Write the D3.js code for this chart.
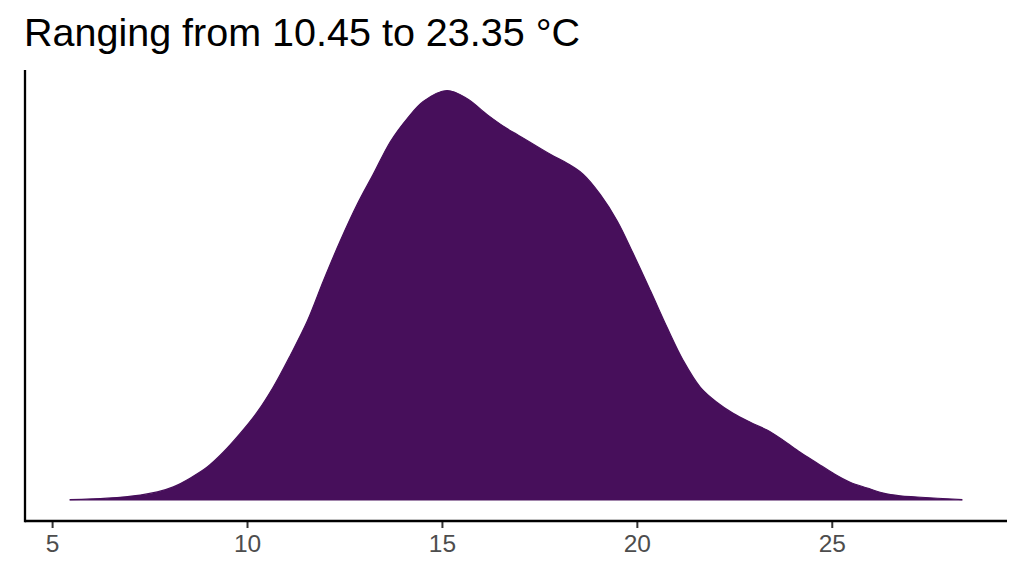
<!DOCTYPE html>
<html>
<head>
<meta charset="utf-8">
<script src="https://cdn.jsdelivr.net/npm/d3@7"></script>
<style>
  body { margin: 0; background: #fff; }
  svg { display: block; font-family: "Liberation Sans", Arial, sans-serif; }
</style>
</head>
<body>
<script>
// temperature grid (°C) and estimated kernel density
const temps = [5.45, 6.42, 7.26, 7.70, 8.11, 8.55, 8.98, 9.39, 9.83, 10.26, 10.67, 11.11, 11.55, 11.96,
  12.39, 12.83, 13.24, 13.68, 14.11, 14.52, 15.13, 15.65, 16.16, 16.67, 16.93, 17.78, 18.21, 18.62,
  19.06, 19.50, 19.91, 20.35, 20.78, 21.19, 21.63, 22.06, 22.47, 22.91, 23.34, 23.75, 24.19, 24.63,
  25.04, 25.47, 25.91, 26.32, 26.75, 27.19, 28.35];
const density = [0.0002, 0.0006, 0.0014, 0.0022, 0.0035, 0.0058, 0.0086, 0.0124, 0.0173, 0.0227, 0.0291,
  0.0373, 0.0462, 0.0565, 0.0667, 0.0762, 0.0839, 0.0923, 0.0982, 0.1026, 0.1054, 0.1033, 0.0992,
  0.0956, 0.0941, 0.0890, 0.0867, 0.0839, 0.0787, 0.0718, 0.0634, 0.0539, 0.0444, 0.0360, 0.0291,
  0.0252, 0.0224, 0.0201, 0.0181, 0.0155, 0.0124, 0.0096, 0.0070, 0.0047, 0.0032, 0.0019, 0.0012,
  0.0009, 0.0002];
const xTicks = [5, 10, 15, 20, 25];
const title = 'Ranging from 10.45 to 23.35 °C';

const width = 1024, height = 576;
const plotLeft = 25, plotRight = 1007, plotTop = 70, plotBottom = 521;

const svg = d3.select('body').append('svg')
  .attr('width', width)
  .attr('height', height);

// ggplot style 5% padding around the data on both axes
const xMin = d3.min(temps), xMax = d3.max(temps);
const xPad = (xMax - xMin) * 0.05;
const x = d3.scaleLinear()
  .domain([xMin - xPad, xMax + xPad])
  .range([plotLeft, plotRight]);

const yMax = d3.max(density);
const y = d3.scaleLinear()
  .domain([-yMax * 0.05, yMax * 1.05])
  .range([plotBottom, plotTop]);

const pts = temps.map((t, i) => ({t: t, d: density[i]}));

const area = d3.area()
  .x(d => x(d.t))
  .y0(y(0))
  .y1(d => y(d.d))
  .curve(d3.curveCatmullRom.alpha(0.5));

const line = d3.line()
  .x(d => x(d.t))
  .y(d => y(d.d))
  .curve(d3.curveCatmullRom.alpha(0.5));

svg.append('path')
  .datum(pts)
  .attr('d', area)
  .attr('fill', '#470f5b');

svg.append('path')
  .datum(pts)
  .attr('d', line)
  .attr('fill', 'none')
  .attr('stroke', '#470f5b')
  .attr('stroke-width', 1.2);

// x axis
const xAxis = svg.append('g')
  .attr('transform', `translate(0,${plotBottom})`)
  .call(d3.axisBottom(x).tickValues(xTicks).tickSize(7).tickPadding(7).tickSizeOuter(0));
xAxis.select('.domain').remove();
xAxis.selectAll('.tick line').attr('stroke', '#333').attr('stroke-width', 2);
xAxis.selectAll('.tick text')
  .attr('fill', '#4d4d4d')
  .style('font-size', '24.5px')
  .style('font-family', '"Liberation Sans", Arial, sans-serif');

// axis lines (theme_classic)
svg.append('line')
  .attr('x1', plotLeft).attr('x2', plotRight)
  .attr('y1', plotBottom).attr('y2', plotBottom)
  .attr('stroke', '#000').attr('stroke-width', 2.3);
svg.append('line')
  .attr('x1', plotLeft).attr('x2', plotLeft)
  .attr('y1', plotTop).attr('y2', plotBottom + 1.15)
  .attr('stroke', '#000').attr('stroke-width', 2.3);

svg.append('text')
  .attr('x', 24)
  .attr('y', 46)
  .attr('fill', '#000')
  .style('font-size', '39.5px')
  .text(title);
</script>
</body>
</html>
